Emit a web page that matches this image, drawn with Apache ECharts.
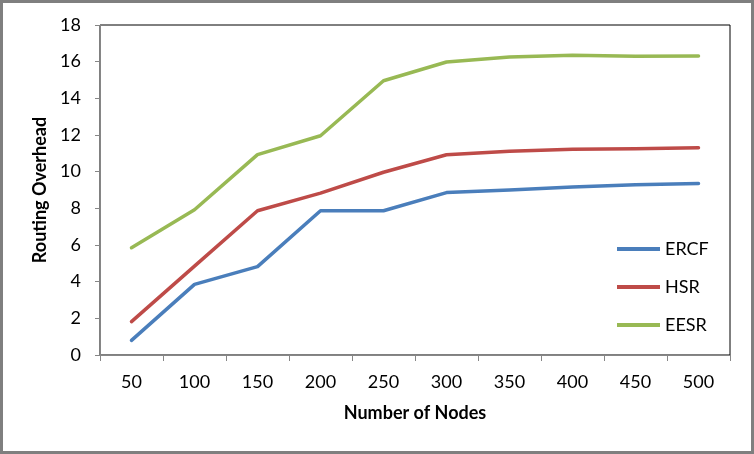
<!DOCTYPE html>
<html><head><meta charset="utf-8">
<script src="https://cdn.jsdelivr.net/npm/echarts@6/dist/echarts.min.js"></script>
<style>html,body{margin:0;padding:0;background:#fff}#c{width:754px;height:454px;box-sizing:border-box;border:3px solid #7f7f7f}</style>
</head><body><div id="c"></div>
<script>
var categories = ['50','100','150','200','250','300','350','400','450','500'];
var ercf = [0.8, 3.85, 4.82, 7.87, 7.87, 8.86, 9.0, 9.17, 9.28, 9.35];
var hsr  = [1.82, 4.85, 7.87, 8.83, 9.97, 10.92, 11.12, 11.22, 11.25, 11.3];
var eesr = [5.85, 7.92, 10.93, 11.96, 14.96, 15.98, 16.25, 16.35, 16.3, 16.31];
var yTicks = {min: 0, max: 18, interval: 2};
var font = 'Lato, "Open Sans", sans-serif';
var chart = echarts.init(document.getElementById('c'));
function s(name, data, color){
  return {name: name, type: 'line', data: data, symbol: 'none', smooth: false,
    lineStyle: {color: color, width: 3.5, cap: 'round', join: 'round'}, itemStyle: {color: color}};
}
chart.setOption({
  animation: false,
  backgroundColor: '#fff',
  grid: {left: 97, right: 21, top: 22, bottom: 96, show: true, borderColor: '#000', borderWidth: 1},
  legend: {orient: 'vertical', left: 609, top: 231, itemWidth: 43, itemHeight: 4, itemGap: 18,
    icon: 'rect',
    textStyle: {fontFamily: font, fontSize: 18, lineHeight: 20, color: '#000'}},
  xAxis: {type: 'category', data: categories, boundaryGap: true,
    name: 'Number of Nodes', nameLocation: 'middle', nameGap: 49,
    nameTextStyle: {fontFamily: font, fontSize: 18, fontWeight: 'bold', color: '#000'},
    axisLine: {lineStyle: {color: '#868686', width: 1}},
    axisTick: {show: true, interval: 0, length: 6, lineStyle: {color: '#868686'}},
    axisLabel: {fontFamily: font, fontSize: 18, color: '#000', margin: 18, interval: 0},
    splitLine: {show: false}},
  yAxis: {type: 'value', min: yTicks.min, max: yTicks.max, interval: yTicks.interval,
    name: 'Routing Overhead', nameLocation: 'middle', nameGap: 48, nameRotate: 90,
    nameTextStyle: {fontFamily: font, fontSize: 18, fontWeight: 'bold', color: '#000'},
    axisLine: {show: true, lineStyle: {color: '#868686', width: 1}},
    axisTick: {show: true, length: 5, lineStyle: {color: '#868686'}},
    axisLabel: {fontFamily: font, fontSize: 18, color: '#000', margin: 19},
    splitLine: {show: false}},
  series: [s('ERCF', ercf, '#4A7EBB'), s('HSR', hsr, '#BE4B48'), s('EESR', eesr, '#98B954')]
});
</script></body></html>
